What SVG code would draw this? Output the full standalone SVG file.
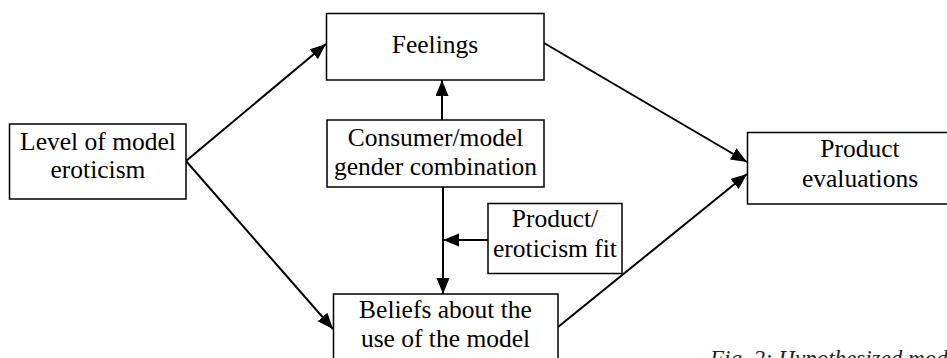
<svg xmlns="http://www.w3.org/2000/svg" width="947" height="358" viewBox="0 0 947 358">
<style>
.box{fill:#fff;stroke:#000;stroke-width:1.5}
.t{font-family:"Liberation Serif","Times New Roman",serif;font-size:25.5px;fill:#000;text-anchor:middle}
.cap{font-family:"Liberation Serif","Times New Roman",serif;font-size:23px;font-style:italic;fill:#222}
.c{stroke:#000;stroke-width:2;fill:none;marker-end:url(#ah)}
</style>
<defs>
<marker id="ah" markerUnits="userSpaceOnUse" markerWidth="17" markerHeight="14" refX="16" refY="6.5" orient="auto">
<path d="M0,0 L16,6.5 L0,13 z" fill="#000"/>
</marker>
</defs>
<rect width="947" height="358" fill="#fff"/>
<g id="connectors">
<line class="c" x1="186" y1="161" x2="326" y2="44"/>
<line class="c" x1="186" y1="161" x2="333" y2="329"/>
<line class="c" x1="544" y1="43" x2="747" y2="162"/>
<line class="c" x1="558" y1="327" x2="747" y2="174"/>
<line class="c" x1="442" y1="120" x2="442" y2="80"/>
<line class="c" x1="443" y1="187" x2="443" y2="294"/>
<line class="c" x1="488" y1="240" x2="443" y2="240"/>
</g>
<g id="level">
<rect class="box" x="9.5" y="124" width="176.5" height="75"/>
<text class="t" x="98" y="150">Level of model</text>
<text class="t" x="98" y="178">eroticism</text>
</g>
<g id="feelings">
<rect class="box" x="326.5" y="13.5" width="217.5" height="66.5"/>
<text class="t" x="435" y="53">Feelings</text>
</g>
<g id="consumer">
<rect class="box" x="327" y="120" width="217" height="67"/>
<text class="t" x="435.5" y="146">Consumer/model</text>
<text class="t" x="435.5" y="175">gender combination</text>
</g>
<g id="fit">
<rect class="box" x="488" y="203.5" width="134" height="70"/>
<text class="t" x="555" y="227">Product/</text>
<text class="t" x="555" y="257">eroticism fit</text>
</g>
<g id="beliefs">
<rect class="box" x="333.5" y="294" width="224.5" height="90"/>
<text class="t" x="445.5" y="318">Beliefs about the</text>
<text class="t" x="445.5" y="347">use of the model</text>
</g>
<g id="product">
<rect class="box" x="747.5" y="132.5" width="225" height="71.5"/>
<text class="t" x="860" y="157">Product</text>
<text class="t" x="860" y="187">evaluations</text>
</g>
<text class="cap" x="710" y="366">Fig. 2: Hypothesized model</text>
</svg>
